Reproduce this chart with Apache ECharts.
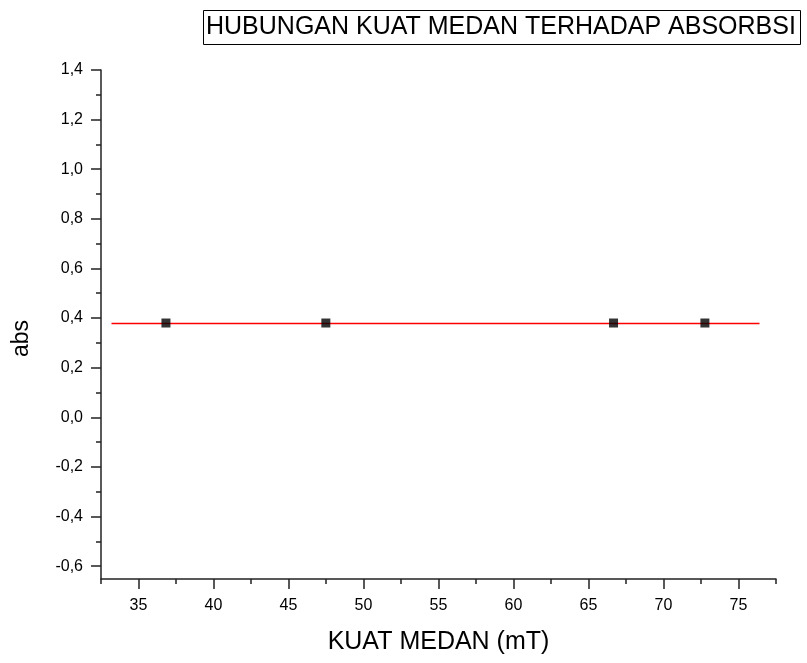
<!DOCTYPE html>
<html>
<head>
<meta charset="utf-8">
<script src="https://cdn.jsdelivr.net/npm/echarts@6/dist/echarts.min.js"></script>
<style>
html,body{margin:0;padding:0;background:#fff;}
#chart{width:807px;height:663px;}
</style>
</head>
<body>
<div id="chart"></div>
<script>
// Data
const kuatMedan = [36.83, 47.49, 66.67, 72.76];
const absValues = [0.38, 0.38, 0.38, 0.38];
const fitX = [33.2, 76.4];
const fitY = [0.378, 0.378];
const xMajorTicks = [35, 40, 45, 50, 55, 60, 65, 70, 75];
const xMinorTicks = [32.5, 37.5, 42.5, 47.5, 52.5, 57.5, 62.5, 67.5, 72.5, 77.5];
const yMajorTicks = [-0.6, -0.4, -0.2, 0, 0.2, 0.4, 0.6, 0.8, 1.0, 1.2, 1.4];
const yMinorTicks = [-0.5, -0.3, -0.1, 0.1, 0.3, 0.5, 0.7, 0.9, 1.1, 1.3];

const FONT = 'Liberation Sans, Arial, sans-serif';
const AXC = '#222';

const chart = echarts.init(document.getElementById('chart'), null, {renderer: 'canvas'});
const fmt = v => (Math.abs(v) < 1e-9 ? 0 : v).toFixed(1).replace('.', ',');

chart.setOption({
  animation: false,
  backgroundColor: '#fff',
  title: {
    text: 'HUBUNGAN KUAT MEDAN TERHADAP ABSORBSI',
    left: 203, top: 10,
    padding: [4, 5, 4, 3],
    borderColor: '#000', borderWidth: 1,
    textStyle: {fontFamily: FONT, fontSize: 25, lineHeight: 27, fontWeight: 'normal', color: '#000'}
  },
  grid: {left: 101, top: 70, right: 31, bottom: 84},
  xAxis: [{
    type: 'value', min: 32.5, max: 77.5, position: 'bottom',
    name: 'KUAT MEDAN (mT)', nameLocation: 'middle', nameGap: 51,
    nameTextStyle: {fontFamily: FONT, fontSize: 25, color: '#000'},
    splitLine: {show: false},
    axisLine: {show: true, onZero: false, lineStyle: {color: AXC, width: 1.5}},
    axisTick: {show: true, inside: false, length: 10, customValues: xMajorTicks, lineStyle: {color: AXC, width: 1.5}},
    axisLabel: {customValues: xMajorTicks, margin: 19, fontFamily: FONT, fontSize: 16, color: '#000'}
  }, {
    type: 'value', min: 32.5, max: 77.5, position: 'bottom', offset: 0,
    splitLine: {show: false},
    axisLine: {show: false, onZero: false},
    axisTick: {show: true, length: 5, customValues: xMinorTicks, lineStyle: {color: AXC, width: 1.5}},
    axisLabel: {show: false}
  }],
  yAxis: [{
    type: 'value', min: -0.652, max: 1.4, position: 'left',
    name: 'abs', nameLocation: 'middle', nameGap: 68,
    nameTextStyle: {fontFamily: FONT, fontSize: 23, color: '#000', padding: [0, 28, 0, 0]},
    splitLine: {show: false},
    axisLine: {show: true, onZero: false, lineStyle: {color: AXC, width: 1.5}},
    axisTick: {show: true, length: 10, customValues: yMajorTicks, lineStyle: {color: AXC, width: 1.5}},
    axisLabel: {customValues: yMajorTicks, margin: 18, formatter: fmt, fontFamily: FONT, fontSize: 16, color: '#000'}
  }, {
    type: 'value', min: -0.652, max: 1.4, position: 'left', offset: 0,
    splitLine: {show: false},
    axisLine: {show: false, onZero: false},
    axisTick: {show: true, length: 5, customValues: yMinorTicks, lineStyle: {color: AXC, width: 1.5}},
    axisLabel: {show: false}
  }],
  series: [{
    type: 'line',
    xAxisIndex: 0, yAxisIndex: 0,
    data: fitX.map((x, i) => [x, fitY[i]]),
    showSymbol: false, symbol: 'none',
    lineStyle: {color: '#ff0000', width: 1.5},
    z: 2
  }, {
    type: 'scatter',
    xAxisIndex: 0, yAxisIndex: 0,
    data: kuatMedan.map((x, i) => [x, absValues[i]]),
    symbol: 'rect', symbolSize: 9,
    itemStyle: {color: '#000'},
    z: 3
  }]
});
</script>
</body>
</html>
